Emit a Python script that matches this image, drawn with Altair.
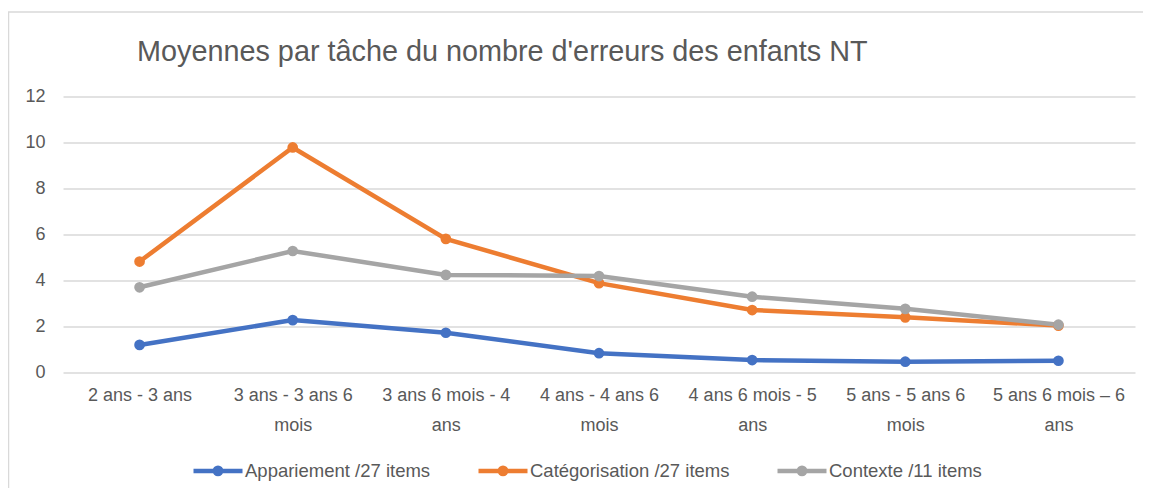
import altair as alt
import pandas as pd

title_text = "Moyennes par tâche du nombre d'erreurs des enfants NT"

categories = [
    "2 ans - 3 ans",
    "3 ans - 3 ans 6\nmois",
    "3 ans 6 mois - 4\nans",
    "4 ans - 4 ans 6\nmois",
    "4 ans 6 mois - 5\nans",
    "5 ans - 5 ans 6\nmois",
    "5 ans 6 mois – 6\nans",
]

series_names = ["Appariement /27 items", "Catégorisation /27 items", "Contexte /11 items"]
series_colors = ["#4472C4", "#ED7D31", "#A5A5A5"]

appariement = [1.18, 2.26, 1.71, 0.82, 0.52, 0.45, 0.49]
categorisation = [4.81, 9.78, 5.80, 3.87, 2.70, 2.38, 2.02]
contexte = [3.69, 5.27, 4.23, 4.18, 3.28, 2.75, 2.06]

y_ticks = [0, 2, 4, 6, 8, 10, 12]

rows = []
for name, vals in zip(series_names, [appariement, categorisation, contexte]):
    for cat, v in zip(categories, vals):
        rows.append({"age": cat, "serie": name, "val": v})
df = pd.DataFrame(rows)

FONT = "Liberation Sans"
TXT = "#595959"
GRID = "#d9d9d9"

legend_symbol = "M-1,0H1M0.13,0A0.13,0.13 0 1,1 -0.13,0A0.13,0.13 0 1,1 0.13,0Z"

lines = alt.Chart(df).mark_line(
    strokeWidth=4.5,
    point=alt.OverlayMarkDef(filled=True, size=115, opacity=1),
).encode(
    x=alt.X(
        "age:N",
        sort=categories,
        scale=alt.Scale(paddingInner=0, paddingOuter=0),
        axis=alt.Axis(
            title=None,
            labelAngle=0,
            labelExpr="split(datum.label, '\\n')",
            labelLineHeight=30,
            labelFontSize=18,
            labelFont=FONT,
            labelColor=TXT,
            ticks=False,
            domain=False,
            grid=False,
            labelPadding=14,
            labelLimit=0,
        ),
    ),
    y=alt.Y(
        "val:Q",
        scale=alt.Scale(domain=[0, 12], nice=False, zero=True),
        axis=alt.Axis(
            title=None,
            values=y_ticks,
            domain=False,
            ticks=False,
            gridColor=GRID,
            gridWidth=1.5,
            labelFontSize=18,
            labelFont=FONT,
            labelColor=TXT,
            labelPadding=18,
        ),
    ),
    color=alt.Color(
        "serie:N",
        sort=series_names,
        scale=alt.Scale(domain=series_names, range=series_colors),
        legend=alt.Legend(
            title=None,
            orient="none",
            legendX=128,
            legendY=347,
            direction="horizontal",
            symbolType=legend_symbol,
            symbolSize=2401,
            symbolStrokeWidth=4.5,
            labelFontSize=18.5,
            labelFont=FONT,
            labelColor=TXT,
            labelOffset=0,
            columnPadding=38,
            labelLimit=0,
        ),
    ),
)

border = alt.Chart(alt.Data(values=[{}])).mark_rect(
    fill=None, stroke=GRID, strokeWidth=1.5
).encode(
    x=alt.value(-54.5), x2=alt.value(1120), y=alt.value(-84.5), y2=alt.value(420)
)

chart = alt.layer(border, lines).properties(
    width=1072,
    height=275.5,
    padding={"left": 55, "top": 88.5, "right": 8, "bottom": 116},
    autosize=alt.AutoSizeParams(type="none"),
    title=alt.Title(
        title_text,
        anchor="start",
        frame="group",
        dx=74,
        offset=-78.75,
        baseline="alphabetic",
        fontSize=28.8,
        font=FONT,
        fontWeight="normal",
        color=TXT,
    ),
).configure_view(stroke=None)

chart.save("out.html", embed_options={"renderer": "svg", "actions": False})
